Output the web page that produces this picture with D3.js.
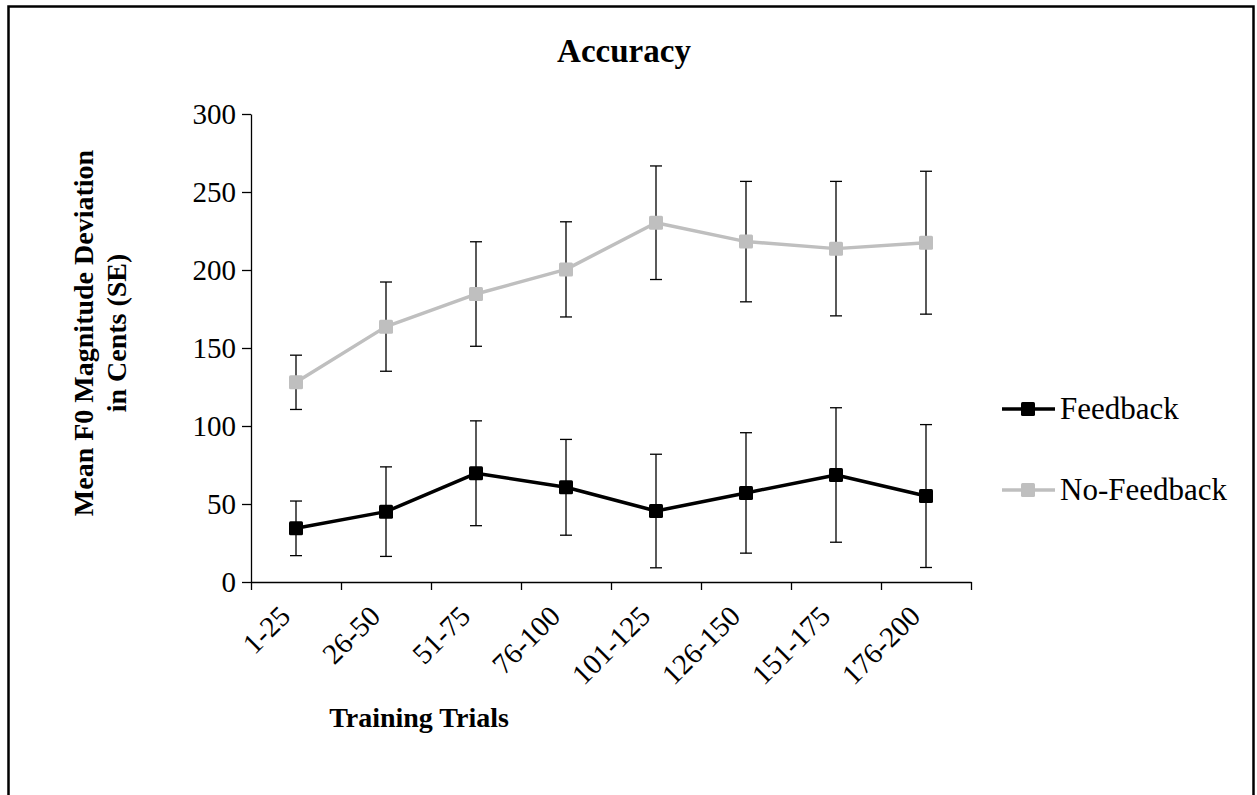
<!DOCTYPE html>
<html>
<head>
<meta charset="utf-8">
<script src="https://cdn.jsdelivr.net/npm/d3@7"></script>
<style>
  html, body { margin: 0; padding: 0; background: #fff; }
  svg { display: block; }
  text { font-family: "Liberation Serif", "Times New Roman", serif; fill: #000; }
</style>
</head>
<body>
<svg id="chart" width="1257" height="795"></svg>
<script>
// ---- data ----
const categories = ["1-25", "26-50", "51-75", "76-100", "101-125", "126-150", "151-175", "176-200"];
const feedback   = [34.4, 45.1, 69.7, 60.7, 45.5, 57.1, 68.6, 55.1];
const feedbackSE = [17.5, 28.7, 33.6, 30.7, 36.4, 38.6, 43.1, 45.8];
const noFeedback   = [128.0, 163.7, 184.6, 200.4, 230.3, 218.2, 213.7, 217.5];
const noFeedbackSE = [17.4, 28.6, 33.5, 30.5, 36.4, 38.6, 43.1, 45.8];
const yTicks = [0, 50, 100, 150, 200, 250, 300];
const seriesNames = ["Feedback", "No-Feedback"];
const titleText = "Accuracy";
const xTitle = "Training Trials";
const yTitle = ["Mean F0 Magnitude Deviation", "in Cents (SE)"];

// ---- layout ----
const svg = d3.select("#chart");
const X0 = 251, X1 = 971, Y0 = 582, Y1 = 114;

svg.append("rect").attr("x", 8.5).attr("y", 6.5).attr("width", 1245).attr("height", 800)
  .attr("fill", "none").attr("stroke", "#000").attr("stroke-width", 2.5);

const x = d3.scaleBand().domain(categories).range([X0, X1]).padding(0);
const xb = d3.scaleLinear().domain([0, categories.length]).range([X0, X1]);
const y = d3.scaleLinear().domain([0, 300]).range([Y0, Y1]);
const cx = c => x(c) + x.bandwidth() / 2;

// y axis
const gy = svg.append("g").attr("transform", `translate(${X0},0)`)
  .call(d3.axisLeft(y).tickValues(yTicks).tickSize(9).tickSizeOuter(0).tickPadding(6));
gy.selectAll("text").style("font-family", '"Liberation Serif", serif').style("font-size", "29px").attr("fill", "#000");
gy.selectAll("line, path").attr("stroke", "#000").attr("stroke-width", 1.3);

// x axis (boundary ticks)
const gx = svg.append("g").attr("transform", `translate(0,${Y0})`)
  .call(d3.axisBottom(xb).tickValues(d3.range(categories.length + 1)).tickSize(8).tickSizeOuter(0).tickFormat(""));
gx.selectAll("line, path").attr("stroke", "#000").attr("stroke-width", 1.3);

// x labels
svg.append("g").selectAll("text").data(categories).join("text")
  .attr("transform", d => `translate(${cx(d) - 4},${Y0 + 36}) rotate(-45)`)
  .attr("text-anchor", "end")
  .style("font-size", "29px")
  .text(d => d);

// series
const series = [
  { name: seriesNames[0], values: feedback, se: feedbackSE, color: "#000000" },
  { name: seriesNames[1], values: noFeedback, se: noFeedbackSE, color: "#BFBFBF" }
];
const line = d3.line().x((d, i) => cx(categories[i])).y(d => y(d));
const ms = 14;

series.forEach(s => {
  const g = svg.append("g");
  g.append("path").datum(s.values).attr("d", line)
    .attr("fill", "none").attr("stroke", s.color).attr("stroke-width", 3.5).attr("stroke-linejoin", "round");
  const eb = g.selectAll("g.eb").data(s.values).join("g");
  eb.append("line")
    .attr("x1", (d, i) => cx(categories[i])).attr("x2", (d, i) => cx(categories[i]))
    .attr("y1", (d, i) => y(d + s.se[i])).attr("y2", (d, i) => y(d - s.se[i]))
    .attr("stroke", "#000").attr("stroke-width", 1.3);
  [1, -1].forEach(sign => {
    eb.append("line")
      .attr("x1", (d, i) => cx(categories[i]) - 6).attr("x2", (d, i) => cx(categories[i]) + 6)
      .attr("y1", (d, i) => y(d + sign * s.se[i])).attr("y2", (d, i) => y(d + sign * s.se[i]))
      .attr("stroke", "#000").attr("stroke-width", 1.3);
  });
  g.selectAll("rect").data(s.values).join("rect")
    .attr("x", (d, i) => cx(categories[i]) - ms / 2).attr("y", d => y(d) - ms / 2)
    .attr("width", ms).attr("height", ms).attr("rx", 1.5)
    .attr("fill", s.color);
});

// legend
const lg = svg.append("g");
series.forEach((s, i) => {
  const ly = 409 + i * 81;
  lg.append("line").attr("x1", 1002).attr("x2", 1055).attr("y1", ly).attr("y2", ly)
    .attr("stroke", s.color).attr("stroke-width", 3.5);
  lg.append("rect").attr("x", 1028 - ms / 2).attr("y", ly - ms / 2).attr("width", ms).attr("height", ms)
    .attr("rx", 1.5).attr("fill", s.color);
  lg.append("text").attr("x", 1060).attr("y", ly + 10).style("font-size", "31px").text(s.name);
});

// titles
svg.append("text").attr("x", 624).attr("y", 62).attr("text-anchor", "middle")
  .style("font-size", "33px").style("font-weight", "bold").text(titleText);
svg.append("text").attr("x", 419).attr("y", 727).attr("text-anchor", "middle")
  .style("font-size", "28px").style("font-weight", "bold").text(xTitle);
yTitle.forEach((t, i) => {
  svg.append("text").attr("transform", `translate(${93 + i * 33},333) rotate(-90)`)
    .attr("text-anchor", "middle").style("font-size", "28px").style("font-weight", "bold").text(t);
});
</script>
</body>
</html>
